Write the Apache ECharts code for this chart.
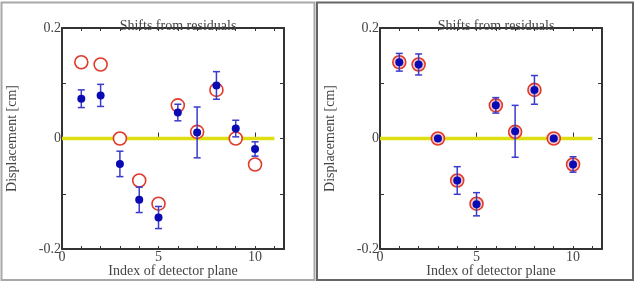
<!DOCTYPE html>
<html>
<head>
<meta charset="utf-8">
<script src="https://cdn.jsdelivr.net/npm/echarts@6/dist/echarts.min.js"></script>
<style>
  html, body { margin: 0; padding: 0; background: #fff; }
  #main { width: 636px; height: 283px; }
</style>
</head>
<body>
<div id="main"></div>
<script>
var planes = [1, 2, 3, 4, 5, 6, 7, 8, 9, 10];
// left panel: measured shifts (blue) and applied shifts (red circles)
var leftShift = [0.072, 0.078, -0.046, -0.111, -0.143, 0.047, 0.011, 0.096, 0.018, -0.019];
var leftErr = [0.016, 0.020, 0.023, 0.023, 0.020, 0.015, 0.046, 0.025, 0.015, 0.013];
var applied = [0.138, 0.134, 0.0, -0.076, -0.118, 0.060, 0.012, 0.088, 0.0, -0.047];
// right panel after correction
var rightShift = [0.138, 0.134, 0.0, -0.076, -0.119, 0.060, 0.013, 0.088, 0.0, -0.047];
var rightErr = [0.016, 0.019, 0.002, 0.025, 0.021, 0.014, 0.047, 0.026, 0.002, 0.014];
var xTicks = [0, 5, 10];
var yTicks = [-0.2, 0, 0.2];

var font = 'Liberation Serif';
var ink = '#333';
var chart = echarts.init(document.getElementById('main'));

function pairs(ys) {
  return planes.map(function (x, i) { return [x, ys[i]]; });
}

function errData(ys, es) {
  return planes.map(function (x, i) { return [x, ys[i] - es[i], ys[i] + es[i]]; });
}

function errBars(params, api) {
  var x = api.value(0);
  var lo = api.coord([x, api.value(1)]);
  var hi = api.coord([x, api.value(2)]);
  var style = { stroke: '#3a3acc', lineWidth: 1.5 };
  return {
    type: 'group',
    children: [
      { type: 'line', shape: { x1: lo[0], y1: lo[1], x2: hi[0], y2: hi[1] }, style: style },
      { type: 'line', shape: { x1: lo[0] - 3.5, y1: lo[1], x2: lo[0] + 3.5, y2: lo[1] }, style: style },
      { type: 'line', shape: { x1: hi[0] - 3.5, y1: hi[1], x2: hi[0] + 3.5, y2: hi[1] }, style: style }
    ]
  };
}

var grids = [
  { left: 62, top: 28, width: 222, height: 221, outerBoundsMode: 'none', containLabel: false },
  { left: 380, top: 28, width: 222, height: 221, outerBoundsMode: 'none', containLabel: false }
];

var xAxes = [], yAxes = [], series = [], titles = [];
var panels = [
  { shift: leftShift, err: leftErr },
  { shift: rightShift, err: rightErr }
];

grids.forEach(function (g, gi) {
  var line = { show: true, onZero: false, lineStyle: { color: ink, width: 2 } };
  xAxes.push({
    gridIndex: gi, type: 'value', position: 'bottom', min: 0, max: 11.5, interval: 1,
    axisLine: line,
    axisTick: { inside: true, length: 3, lineStyle: { color: ink } },
    axisLabel: {
      margin: 1, color: '#444', fontFamily: font, fontSize: 14, showMaxLabel: false,
      formatter: function (v) { return xTicks.indexOf(v) >= 0 ? String(v) : ''; }
    },
    splitLine: { show: false },
    name: 'Index of detector plane', nameLocation: 'middle', nameGap: 15, nameMoveOverlap: false,
    nameTextStyle: { color: '#444', fontFamily: font, fontSize: 14 }
  });
  xAxes.push({
    gridIndex: gi, type: 'value', position: 'bottom', min: 0, max: 11.5, interval: 5,
    axisLine: { show: false },
    axisTick: { inside: true, length: 6, lineStyle: { color: ink } },
    axisLabel: { show: false }, splitLine: { show: false }
  });
  xAxes.push({
    gridIndex: gi, type: 'value', position: 'top', min: 0, max: 11.5, interval: 1,
    axisLine: line,
    axisTick: { inside: true, length: 3, lineStyle: { color: ink } },
    axisLabel: { show: false }, splitLine: { show: false }
  });
  yAxes.push({
    gridIndex: gi, type: 'value', position: 'left', min: -0.2, max: 0.2, interval: 0.1,
    axisLine: line,
    axisTick: { inside: true, length: 4, lineStyle: { color: ink } },
    axisLabel: {
      margin: 1, color: '#444', fontFamily: font, fontSize: 14,
      formatter: function (v) {
        var r = Math.round(v * 10) / 10;
        return yTicks.indexOf(r) >= 0 ? (r === 0 ? '0' : r.toFixed(1)) : '';
      }
    },
    splitLine: { show: false },
    name: 'Displacement [cm]', nameLocation: 'middle', nameGap: 43, nameMoveOverlap: false,
    nameTextStyle: { color: '#444', fontFamily: font, fontSize: 14 }
  });
  yAxes.push({
    gridIndex: gi, type: 'value', position: 'right', min: -0.2, max: 0.2, interval: 0.1,
    axisLine: line,
    axisTick: { inside: true, length: 4, lineStyle: { color: ink } },
    axisLabel: { show: false }, splitLine: { show: false }
  });

  titles.push({
    text: 'Shifts from residuals', left: g.left + g.width / 2, top: 14, textAlign: 'center',
    textStyle: { color: '#444', fontFamily: font, fontSize: 14, fontWeight: 'normal' }
  });

  var xi = gi * 3, yi = gi * 2;
  var p = panels[gi];
  series.push({
    type: 'line', xAxisIndex: xi, yAxisIndex: yi, data: [[0, 0], [11, 0]],
    symbol: 'none', lineStyle: { color: '#dede10', width: 3.5 }, z: 1, silent: true
  });
  series.push({
    type: 'scatter', xAxisIndex: xi, yAxisIndex: yi, data: pairs(applied),
    symbol: 'circle', symbolSize: 13, z: 2,
    itemStyle: { color: gi === 0 ? '#fff' : '#f3c8c8', borderColor: '#e03a2a', borderWidth: 1.6, opacity: 1 }
  });
  series.push({
    type: 'custom', xAxisIndex: xi, yAxisIndex: yi, data: errData(p.shift, p.err),
    renderItem: errBars, z: 3, encode: { x: 0, y: [1, 2] }
  });
  series.push({
    type: 'scatter', xAxisIndex: xi, yAxisIndex: yi, data: pairs(p.shift),
    symbol: 'circle', symbolSize: 8, z: 4,
    itemStyle: { color: '#0a0ab4', opacity: 1 }
  });
});

chart.setOption({
  animation: false,
  backgroundColor: '#fff',
  title: titles,
  grid: grids,
  xAxis: xAxes,
  yAxis: yAxes,
  series: series,
  graphic: [
    { type: 'rect', shape: { x: 1.5, y: 2.5, width: 313, height: 277.5 }, style: { fill: 'none', stroke: '#a8a8a8', lineWidth: 2 }, z: 10 },
    { type: 'rect', shape: { x: 317, y: 2.5, width: 316, height: 277.5 }, style: { fill: 'none', stroke: '#666', lineWidth: 2 }, z: 10 }
  ]
});
</script>
</body>
</html>
